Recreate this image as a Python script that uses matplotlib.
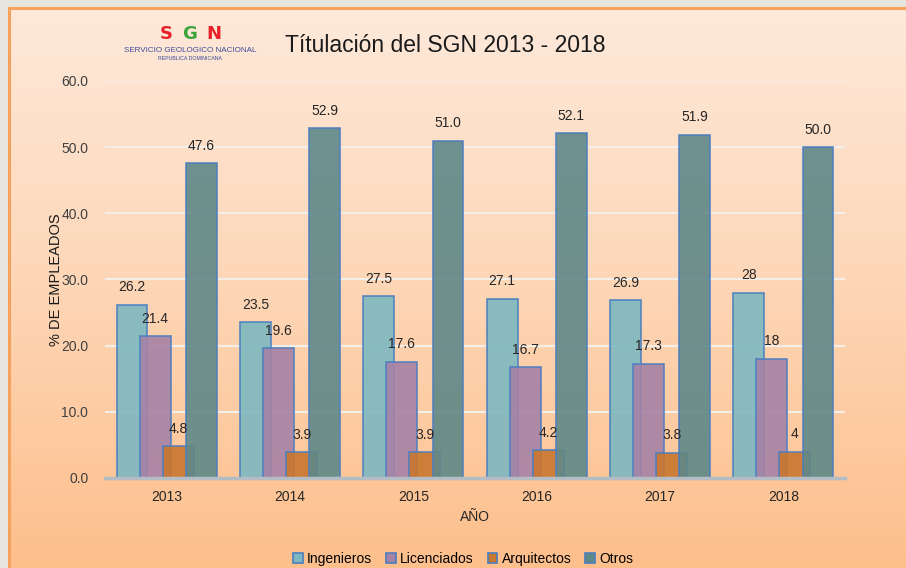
import numpy as np
import matplotlib
matplotlib.use("Agg")
from matplotlib import pyplot as plt
from matplotlib.colors import LinearSegmentedColormap

plt.rcParams['font.family'] = ['Liberation Sans', 'DejaVu Sans']

years = ['2013', '2014', '2015', '2016', '2017', '2018']
series = ['Ingenieros', 'Licenciados', 'Arquitectos', 'Otros']
ingenieros = [26.2, 23.5, 27.5, 27.1, 26.9, 28.0]
licenciados = [21.4, 19.6, 17.6, 16.7, 17.3, 18.0]
arquitectos = [4.8, 3.9, 3.9, 4.2, 3.8, 4.0]
otros = [47.6, 52.9, 51.0, 52.1, 51.9, 50.0]
lab_ing = ['26.2', '23.5', '27.5', '27.1', '26.9', '28']
lab_lic = ['21.4', '19.6', '17.6', '16.7', '17.3', '18']
lab_arq = ['4.8', '3.9', '3.9', '4.2', '3.8', '4']
lab_otr = ['47.6', '52.9', '51.0', '52.1', '51.9', '50.0']
yticks = [0, 10, 20, 30, 40, 50, 60]

colors = ['#7db8c0', '#a682a6', '#c8772f', '#5f8888']
edge = '#4a7ec0'

fig = plt.figure(figsize=(9.06, 5.68), dpi=100)
fig.patch.set_facecolor('#e6e6de')

# background card with gradient
bg = fig.add_axes([0, 0, 1, 1])
bg.axis('off')
cmap = LinearSegmentedColormap.from_list('g', ['#fde9da', '#fed6b6', '#fdbf8c'])
grad = np.linspace(0, 1, 256).reshape(-1, 1)
bg.imshow(grad, cmap=cmap, aspect='auto', extent=[9, 906, 568, 8], zorder=0)
bg.plot([9, 9], [568, 8], color='#f7a25c', lw=2.2, zorder=1)
bg.plot([9, 906], [8, 8], color='#f7a25c', lw=2.2, zorder=1)
bg.set_xlim(0, 906)
bg.set_ylim(568, 0)

# logo
for ch, xx, c in [('S', 166, '#e8202a'), ('G', 190, '#3aa33a'), ('N', 214, '#e8202a')]:
    bg.text(xx, 34, ch, color=c, fontsize=13, fontweight='bold', ha='center', va='center',
            family='DejaVu Sans')
bg.text(190, 51, 'SERVICIO GEOLOGICO NACIONAL', color='#3a4a9a', fontsize=5.8, ha='center', va='center')
bg.text(190, 59, 'REPUBLICA DOMINICANA', color='#3a4a9a', fontsize=3.8, ha='center', va='center')

bg.text(445, 45, 'Títulación del SGN 2013 - 2018', fontsize=16.5, color='#1a1a1a', ha='center', va='center')

ax = fig.add_axes([0.1159, 0.1585, 0.8168, 0.6989])
ax.set_facecolor('none')
x = np.arange(len(years))
width = 0.25
step = 0.187
data = [ingenieros, licenciados, arquitectos, otros]
labs = [lab_ing, lab_lic, lab_arq, lab_otr]
for i, (vals, lab) in enumerate(zip(data, labs)):
    pos = x + (i - 1.5) * step
    bars = ax.bar(pos, vals, width=width, color=colors[i], alpha=0.9,
                  edgecolor=edge, linewidth=1.2, label=series[i], zorder=3 + i)
    for b, t in zip(bars, lab):
        ax.annotate(t, (b.get_x() + b.get_width() / 2, b.get_height()),
                    xytext=(0, 7.5), textcoords='offset points', ha='center', va='bottom',
                    fontsize=10, color='#262626', zorder=10)

ax.set_xlim(-0.5, len(years) - 0.5)
ax.set_ylim(0, 60)
ax.set_yticks(yticks)
ax.set_yticklabels(['%.1f' % v for v in yticks], fontsize=10, color='#404040')
ax.set_xticks(x)
ax.set_xticklabels(years, fontsize=10, color='#262626')
ax.tick_params(axis='y', length=0, pad=12)
ax.tick_params(axis='x', length=0, pad=9)
ax.grid(axis='y', color='#f4eee8', lw=1.5, zorder=1)
for s in ['top', 'right', 'left']:
    ax.spines[s].set_visible(False)
ax.spines['bottom'].set_color('#b4bcc4')
ax.spines['bottom'].set_linewidth(2.5)
ax.spines['bottom'].set_zorder(8)
ax.set_xlabel('AÑO', fontsize=10, color='#262626', labelpad=4)
ax.set_ylabel('% DE EMPLEADOS', fontsize=10.5, color='#1a1a1a', labelpad=-1)

leg = ax.legend(loc='center', bbox_to_anchor=(0.484, -0.203), ncol=4, frameon=False,
                fontsize=10, handlelength=0.7, handleheight=0.7, handletextpad=0.3,
                columnspacing=1.0)
for h in leg.legend_handles:
    h.set_alpha(1)

fig.savefig('out.png', dpi=100, facecolor=fig.get_facecolor())
